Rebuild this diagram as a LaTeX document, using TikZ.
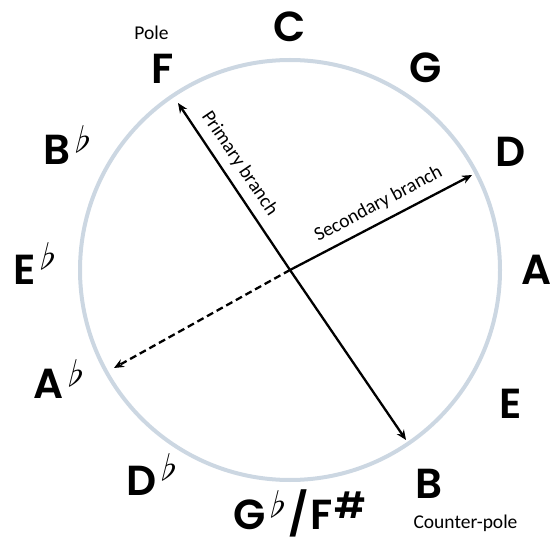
\documentclass[tikz,border=0pt]{standalone}
\usepackage{fontspec}
\setmainfont{Carlito}
\newfontfamily\notefont{Poppins}[UprightFont=* SemiBold]
\newfontfamily\flatfont{latinmodern-math.otf}[FakeSlant=0.25]
\usetikzlibrary{arrows.meta}
\definecolor{ring}{RGB}{204,215,226}
\newcommand{\fl}[1][12]{\kern4pt\raisebox{#1pt}{\flatfont\fontsize{36}{36}\selectfont ♭}}
\newcommand{\shp}{\kern1pt\raisebox{11pt}{\fontsize{36}{36}\selectfont\#}}
\begin{document}
\begin{tikzpicture}[x=1pt,y=-1pt,
  note/.style={font=\notefont\fontsize{42}{42}\selectfont, inner sep=0pt},
  tag/.style={font=\fontsize{19.5}{19.5}\selectfont, inner sep=0pt},
  branch/.style={line width=2.3pt, -{Stealth[length=10pt,width=8.5pt]}},
]
\useasboundingbox (0,0) rectangle (554,537);
\draw[ring, line width=4pt] (290,270) circle[radius=210];

\node[note, anchor=base] (C) at (290,42) {C};
\node[note, anchor=base] (G) at (426,83) {G};
\node[note, anchor=base] (F) at (162.5,84) {F};
\node[note, anchor=base] (D) at (510.6,167) {D};
\node[note, anchor=base] (A) at (537,285) {A};
\node[note, anchor=base] (E) at (510.6,418) {E};
\node[note, anchor=base] (B) at (428.5,498) {B};
\node[note, anchor=base west] (Bb) at (43,165) {B\fl};
\node[note, anchor=base west] (Eb) at (13,285) {E\fl[15]};
\node[note, anchor=base west] (Ab) at (33,398) {A\fl};
\node[note, anchor=base west] (Db) at (126,495) {D\fl[15]};
\node[note, anchor=base west] (Gb) at (233,529) {G\fl\kern5pt/\kern2pt F\shp};
\node[tag, anchor=base] (pole) at (151.5,40) {Pole};
\node[tag, anchor=base] (cpole) at (465.5,528) {Counter-pole};

\coordinate (O) at (290,270);
\coordinate (Ftip) at (178,103);
\coordinate (Btip) at (406,440);
\coordinate (Dtip) at (472,175);
\coordinate (Atip) at (114,368);
\draw[branch] (O) -- (Ftip);
\draw[branch] (O) -- (Btip);
\draw[branch] (O) -- (Dtip);
\draw[branch, dash pattern=on 7pt off 4pt] (O) -- (Atip);

\node[tag, rotate=-56] (pt) at (239.5,163.5) {Primary branch};
\node[tag, rotate=28] (st) at (378.5,204) {Secondary branch};
\end{tikzpicture}
\end{document}
